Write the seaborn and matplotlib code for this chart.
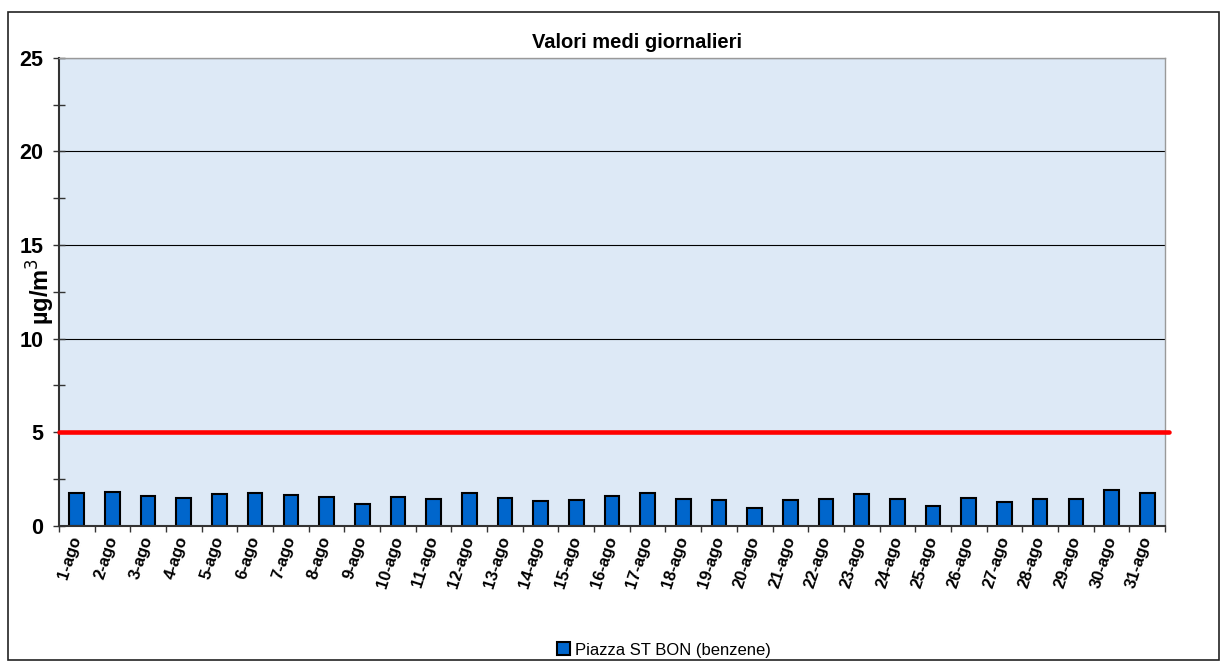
import numpy as np
import pandas as pd
import matplotlib.pyplot as plt
import matplotlib.patches as patches
import matplotlib.transforms as mtransforms
from matplotlib.ticker import MultipleLocator
import seaborn as sns

# daily mean values (benzene), August
days = [f"{d}-ago" for d in range(1, 32)]
benzene = [1.78, 1.83, 1.57, 1.50, 1.69, 1.73, 1.64, 1.55, 1.19, 1.53, 1.42,
           1.78, 1.48, 1.35, 1.39, 1.59, 1.73, 1.44, 1.39, 0.98, 1.39, 1.44,
           1.69, 1.42, 1.07, 1.48, 1.28, 1.41, 1.42, 1.91, 1.75]
limit = 5
series_name = "Piazza ST BON (benzene)"

df = pd.DataFrame({"giorno": days, "valore": benzene})

sns.set_style("white")
plt.rcParams['font.family'] = ['Liberation Sans', 'DejaVu Sans']
plt.rcParams['text.color'] = 'black'
plt.rcParams['xtick.color'] = 'black'
plt.rcParams['ytick.color'] = 'black'
plt.rcParams['axes.labelcolor'] = 'black'

fig = plt.figure(figsize=(12.27, 6.64), dpi=100)
ax = fig.add_axes([0.048, 0.208, 0.9015, 0.705])
ax.set_facecolor('#dde9f6')

sns.barplot(data=df, x="giorno", y="valore", color='#0066CC', width=0.41,
            edgecolor='black', linewidth=1.5, saturation=1, label=series_name, ax=ax)

# limit line
ax.axhline(limit, xmin=0, xmax=1.004, color='#ff0000', linewidth=3.3, clip_on=False, zorder=3)

ax.set_ylim(0, 25)
ax.set_xlim(-0.5, len(days) - 0.5)
ax.yaxis.set_major_locator(MultipleLocator(5))
ax.yaxis.set_minor_locator(MultipleLocator(2.5))
ax.grid(axis='y', which='major', color='black', linewidth=0.8)
ax.set_axisbelow(True)

# x ticks between categories
ax.set_xticks(np.arange(len(days)))
ax.set_xticklabels(days, rotation=72, fontsize=12, fontweight='bold',
                   ha='right', va='center', rotation_mode='anchor')
shift = mtransforms.ScaledTranslation(9 / 100, 0, fig.dpi_scale_trans)
for t in ax.get_xticklabels():
    t.set_transform(t.get_transform() + shift)
ax.set_xticks(np.arange(len(days) + 1) - 0.5, minor=True)
ax.tick_params(axis='x', which='major', length=0, pad=8)
ax.tick_params(axis='x', which='minor', length=4, width=1, color='#333333',
               bottom=True, direction='out')
ax.tick_params(axis='y', which='both', length=8, width=1, color='#333333', left=True,
               direction='inout', labelsize=15.5, pad=7)
for t in ax.get_yticklabels():
    t.set_fontweight('bold')

for s in ['left', 'bottom']:
    ax.spines[s].set_color('#333333')
    ax.spines[s].set_linewidth(1.5)
for s in ['top', 'right']:
    ax.spines[s].set_color('#999999')
    ax.spines[s].set_linewidth(1)

ax.set_xlabel('')
ax.set_ylabel('µg/m$^3$', fontsize=17, fontweight='bold', va='center')
ax.yaxis.set_label_coords(-0.016, 0.5)
ax.set_title('Valori medi giornalieri', fontsize=14.5, fontweight='bold', pad=7, x=0.523)

leg = ax.legend(loc='center', bbox_to_anchor=(0.547, -0.265), frameon=False,
                fontsize=12, handlelength=0.8, handleheight=0.8, handletextpad=0.3)

# outer chart border
fig.patches.append(patches.Rectangle((8 / 1227, 4 / 664), 1211 / 1227, 648 / 664,
                                     transform=fig.transFigure, fill=False,
                                     edgecolor='#222222', linewidth=1.2))

fig.savefig('out.png', dpi=100)
